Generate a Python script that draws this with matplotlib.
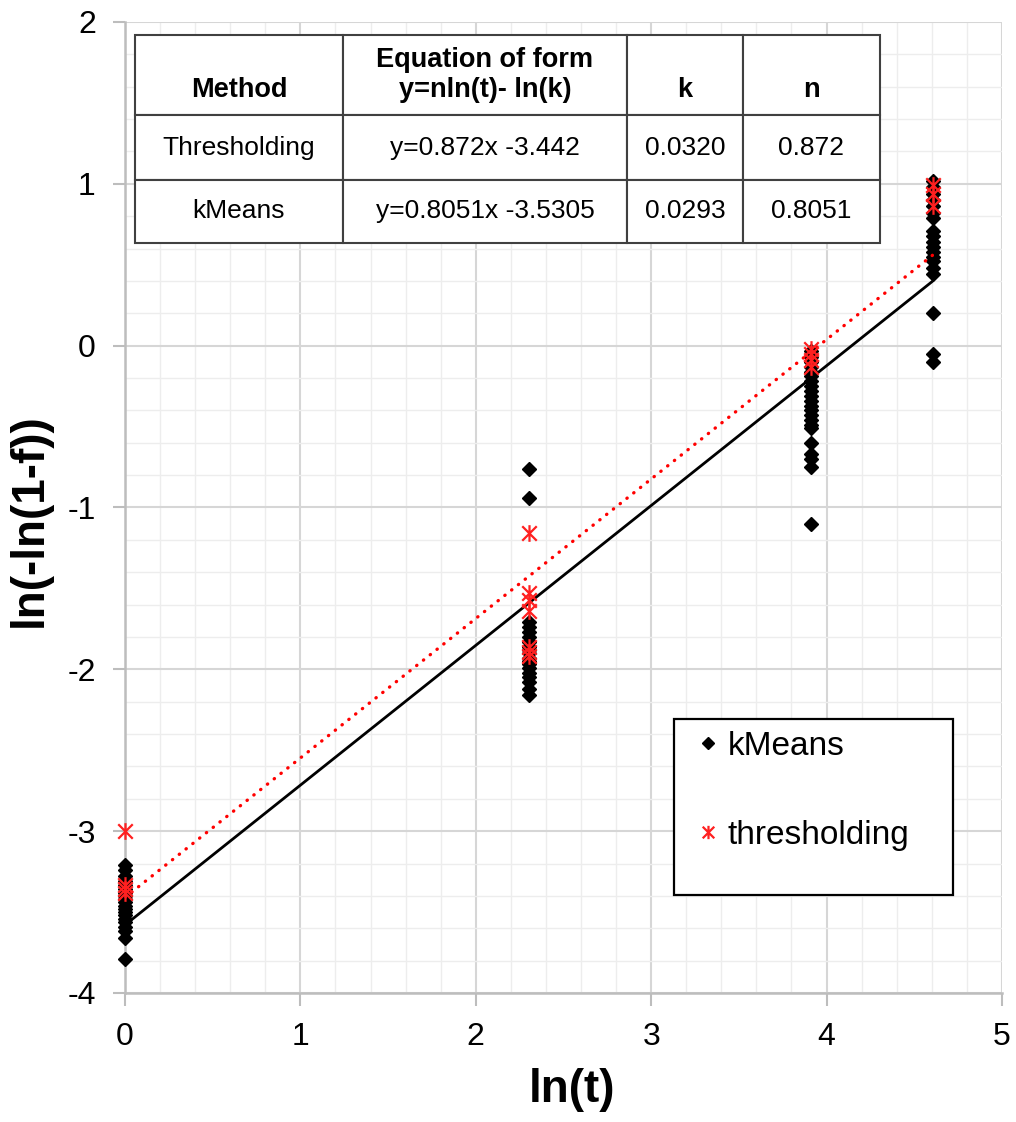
import matplotlib.pyplot as plt
import numpy as np
from matplotlib.patches import Rectangle
from matplotlib.path import Path
from matplotlib.ticker import MultipleLocator

plt.rcParams["font.family"] = ["Liberation Sans", "DejaVu Sans"]
plt.rcParams["axes.unicode_minus"] = False

# sampling times, plotted as ln(t)
times = [1, 10, 50, 100]

# ln(-ln(1-f)) values, one list per time
kmeans_y = [
    [-3.21, -3.24, -3.28, -3.31, -3.33, -3.36, -3.38, -3.40, -3.42, -3.44,
     -3.46, -3.48, -3.50, -3.52, -3.54, -3.56, -3.59, -3.62, -3.66, -3.79],
    [-0.76, -0.94, -1.71, -1.74, -1.77, -1.80, -1.83, -1.86, -1.88, -1.90,
     -1.93, -1.95, -1.97, -1.99, -2.02, -2.05, -2.08, -2.12, -2.16],
    [-0.03, -0.07, -0.10, -0.13, -0.16, -0.19, -0.22, -0.25, -0.28, -0.31,
     -0.34, -0.37, -0.40, -0.43, -0.46, -0.49, -0.51, -0.60, -0.67, -0.70,
     -0.75, -1.10],
    [1.02, 0.98, 0.94, 0.90, 0.86, 0.82, 0.79, 0.71, 0.68, 0.64, 0.61, 0.58,
     0.55, 0.52, 0.48, 0.44, 0.20, -0.05, -0.10],
]
thresh_y = [
    [-3.00, -3.33, -3.36, -3.38],
    [-1.16, -1.53, -1.57, -1.64, -1.86, -1.89, -1.92],
    [-0.02, -0.05, -0.09, -0.13],
    [0.99, 0.94, 0.86],
]

# fitted trend lines as drawn (slope, intercept)
kmeans_fit = (0.864, -3.58)
thresh_fit = (0.862, -3.41)

table_cols = ["\nMethod", "Equation of form\ny=nln(t)- ln(k)", "\nk", "\nn"]
table_rows = [
    ["Thresholding", "y=0.872x -3.442", "0.0320", "0.872"],
    ["kMeans", "y=0.8051x -3.5305", "0.0293", "0.8051"],
]

star = Path(
    [(-1, -1), (1, 1), (-1, 1), (1, -1), (0, -1.15), (0, 1.15)],
    [Path.MOVETO, Path.LINETO, Path.MOVETO, Path.LINETO, Path.MOVETO, Path.LINETO],
)

fig = plt.figure(figsize=(10.16, 11.22), dpi=100)
ax = fig.add_axes([0.1230, 0.1150, 0.8632, 0.8654])

lnt = np.log(times)
kx = np.concatenate([[x] * len(v) for x, v in zip(lnt, kmeans_y)])
tx = np.concatenate([[x] * len(v) for x, v in zip(lnt, thresh_y)])
ky = np.concatenate(kmeans_y)
ty = np.concatenate(thresh_y)

ax.plot(kx, ky, ls="none", marker="D", ms=7.5, color="black", label="kMeans",
        zorder=3, clip_on=False)
xfit = np.array([lnt[0], lnt[-1]])
ax.plot(xfit, kmeans_fit[0] * xfit + kmeans_fit[1], color="black", lw=2.0,
        zorder=4, solid_capstyle="butt")
ax.plot(xfit, thresh_fit[0] * xfit + thresh_fit[1], color="#ff0000", lw=2.4,
        ls=(0, (0.1, 2.5)), dash_capstyle="round", zorder=4)
ax.plot(tx, ty, ls="none", marker=star, ms=12, mew=1.6, color="#ff2020",
        mfc="none", label="thresholding", zorder=5, clip_on=False)

ax.set_xlim(0, 5)
ax.set_ylim(-4, 2)
ax.xaxis.set_major_locator(MultipleLocator(1))
ax.yaxis.set_major_locator(MultipleLocator(1))
ax.xaxis.set_minor_locator(MultipleLocator(0.2))
ax.yaxis.set_minor_locator(MultipleLocator(0.2))
ax.set_axisbelow(True)
ax.grid(which="major", color="#d6d6d6", lw=1.5)
ax.grid(which="minor", color="#ededed", lw=1.0)
for side in ["top", "right"]:
    ax.spines[side].set_visible(False)
for side in ["left", "bottom"]:
    ax.spines[side].set_color("#bdbdbd")
    ax.spines[side].set_linewidth(1.8)
ax.tick_params(which="major", length=9, width=1.5, color="#bdbdbd",
               labelsize=23, pad=12)
ax.tick_params(which="minor", length=0)

fig.text(0.563, 1 - 1090 / 1122, "ln(t)", ha="center", va="center",
         fontsize=33, fontweight="bold")
fig.text(30 / 1016, 1 - 520 / 1122, "ln(-ln(1-f))", ha="center", va="center",
         rotation=90, fontsize=33, fontweight="bold")

col_w = np.array([208, 284, 116, 137]) / 877
tbl = ax.table(cellText=table_rows, colLabels=table_cols, colWidths=col_w,
               cellLoc="center", bbox=[0.0114, 0.7724, 0.8495, 0.2142])
tbl.auto_set_font_size(False)
tbl.set_fontsize(19)
tbl.set_zorder(6)
row_h = [80, 64, 63]
for (r, c), cell in tbl.get_celld().items():
    cell.set_height(row_h[r] / 971)
    cell.set_edgecolor("#404040")
    cell.set_linewidth(1.5)
    cell.set_facecolor("white")
    if r == 0:
        cell.get_text().set_fontweight("bold")
        cell.get_text().set_fontsize(19.5)

ax.add_patch(Rectangle((0.626, 0.101), 0.318, 0.181, transform=ax.transAxes,
                       facecolor="white", edgecolor="black", lw=1.6, zorder=7))
leg = ax.legend(loc="upper left", bbox_to_anchor=(0.615, 0.301), frameon=False,
                fontsize=24, labelspacing=1.75, handlelength=0.8,
                handletextpad=0.2, markerscale=0.8)
leg.set_zorder(8)

fig.savefig("out.png", dpi=100)
